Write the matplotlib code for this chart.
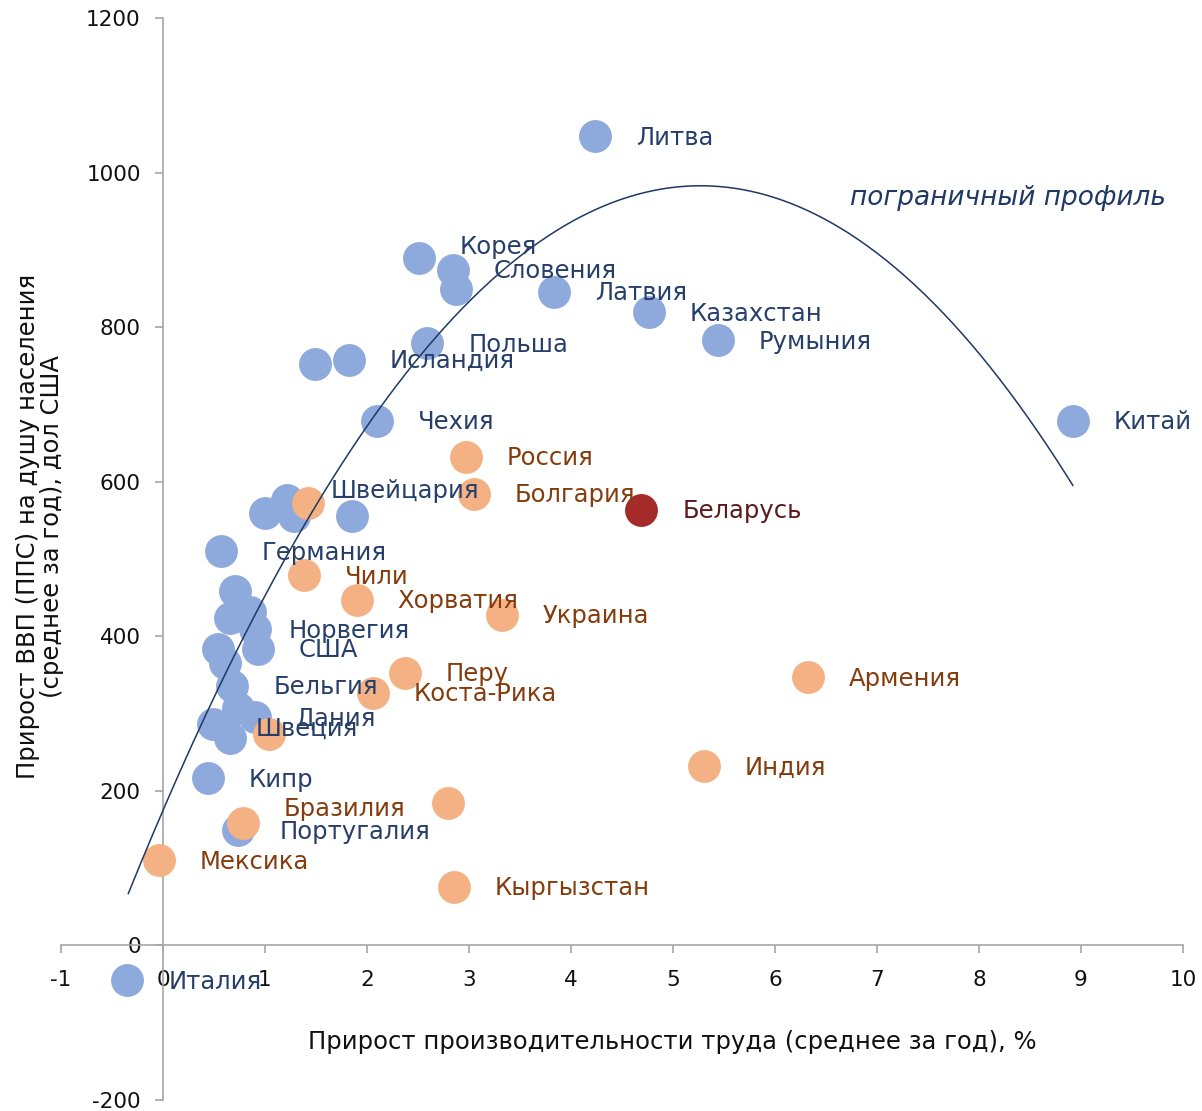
import numpy as np
import matplotlib
matplotlib.use("Agg")
import matplotlib.pyplot as plt

plt.rcParams['font.family'] = ['DejaVu Sans']

# --- данные: прирост производительности (x, %) и прирост ВВП на душу (y, дол США) ---
blue_names = ['Литва', 'Корея', 'Словения', '', 'Латвия', 'Казахстан', 'Румыния', 'Китай',
              'Польша', 'Исландия', '', 'Чехия', '', 'Швейцария', '', '', 'Германия',
              '', '', '', 'Норвегия', '', 'США', '', 'Бельгия', '', 'Дания', 'Швеция',
              '', 'Кипр', 'Португалия', 'Италия']
blue_x = [4.24, 2.51, 2.84, 2.87, 3.83, 4.76, 5.44, 8.92,
          2.59, 1.82, 1.49, 2.10, 1.85, 1.22, 1.00, 1.28, 0.57,
          0.71, 0.66, 0.85, 0.90, 0.54, 0.93, 0.61, 0.68, 0.74, 0.90, 0.49,
          0.66, 0.44, 0.74, -0.35]
blue_y = [1047, 889, 874, 849, 846, 819, 783, 679,
          779, 758, 752, 679, 556, 576, 559, 556, 510,
          459, 424, 431, 410, 384, 384, 366, 336, 307, 295, 287,
          269, 216, 149, -45]

orange_names = ['Россия', 'Болгария', '', 'Чили', 'Хорватия', 'Украина', 'Перу', 'Коста-Рика',
                'Армения', 'Индия', '', '', 'Бразилия', 'Мексика', 'Кыргызстан']
orange_x = [2.97, 3.05, 1.42, 1.38, 1.90, 3.32, 2.37, 2.06,
            6.32, 5.30, 2.79, 1.04, 0.78, -0.04, 2.85]
orange_y = [632, 584, 572, 479, 447, 428, 353, 327,
            347, 232, 184, 273, 159, 110, 76]

belarus_name = ['Беларусь']
belarus_x = [4.69]
belarus_y = [564]

# полиномиальная линия тренда "пограничный профиль" (2-й степени)
frontier_coef = [-29.1, 306.7, 174.8]
frontier_xmin, frontier_xmax = -0.34, 8.92

x_ticks = [-1, 0, 1, 2, 3, 4, 5, 6, 7, 8, 9, 10]
y_ticks = [-200, 0, 200, 400, 600, 800, 1000, 1200]

BLUE = '#8EA9DB'
BLUE_TXT = '#263F6A'
ORANGE = '#F4B183'
ORANGE_TXT = '#843C0C'
RED = '#A52A2A'
RED_TXT = '#5C1A1A'
NAVY = '#1F3864'

# смещения подписей (в точках), по умолчанию вправо от маркера
default_off = (29.5, -1)
label_off = {'Корея': (29.5, 8), 'Швейцария': (31, 7), 'Бразилия': (29.5, 10),
             'Норвегия': (24, -2), 'Швеция': (31, -4)}

fig = plt.figure(figsize=(12.02, 11.11), dpi=100)
ax = fig.add_axes([61 / 1202, 1 - 1100 / 1111, (1183 - 61) / 1202, (1100 - 18) / 1111])

ms = 560
ax.scatter(blue_x, blue_y, s=ms, color=BLUE, linewidths=0, zorder=3)
ax.scatter(orange_x, orange_y, s=ms, color=ORANGE, linewidths=0, zorder=4)
ax.scatter(belarus_x, belarus_y, s=ms, color=RED, linewidths=0, zorder=5)

fx = np.linspace(frontier_xmin, frontier_xmax, 300)
ax.plot(fx, np.polyval(frontier_coef, fx), color=NAVY, lw=1.1, zorder=6)

def put_labels(names, xs, ys, color):
    for n, x, y in zip(names, xs, ys):
        if not n:
            continue
        off = label_off.get(n, default_off)
        ax.annotate(n, (x, y), xytext=off, textcoords='offset points',
                    ha='left', va='center', fontsize=17.5, color=color, zorder=10)

put_labels(blue_names, blue_x, blue_y, BLUE_TXT)
put_labels(orange_names, orange_x, orange_y, ORANGE_TXT)
put_labels(belarus_name, belarus_x, belarus_y, RED_TXT)

ax.text(6.74, 967, 'пограничный профиль', style='italic', fontsize=19,
        color=NAVY, ha='left', va='center')

ax.set_xlim(-1, 10)
ax.set_ylim(-200, 1200)
ax.set_xticks(x_ticks)
ax.set_yticks(y_ticks)
ax.set_xticklabels([str(t) for t in x_ticks])
ax.set_yticklabels([str(t) for t in y_ticks])

for side in ['top', 'right']:
    ax.spines[side].set_visible(False)
ax.spines['left'].set_position(('data', 0))
ax.spines['bottom'].set_position(('data', 0))
for side in ['left', 'bottom']:
    ax.spines[side].set_color('#A6A6A6')
    ax.spines[side].set_linewidth(1.2)
ax.tick_params(axis='both', colors='#A6A6A6', labelcolor='#111111',
               labelsize=15.5, length=6, width=1.2, direction='out')
ax.tick_params(axis='x', pad=12)
ax.tick_params(axis='y', pad=10)

fig.text(672 / 1202, 1 - 1042 / 1111, 'Прирост производительности труда (среднее за год), %',
         ha='center', va='center', fontsize=17.5, color='#111111')
fig.text(40 / 1202, 1 - 526 / 1111,
         'Прирост ВВП (ППС) на душу населения\n(среднее за год), дол США',
         ha='center', va='center', rotation=90, fontsize=17.5, color='#111111',
         linespacing=1.05, multialignment='center')

fig.savefig('out.png', dpi=100)
